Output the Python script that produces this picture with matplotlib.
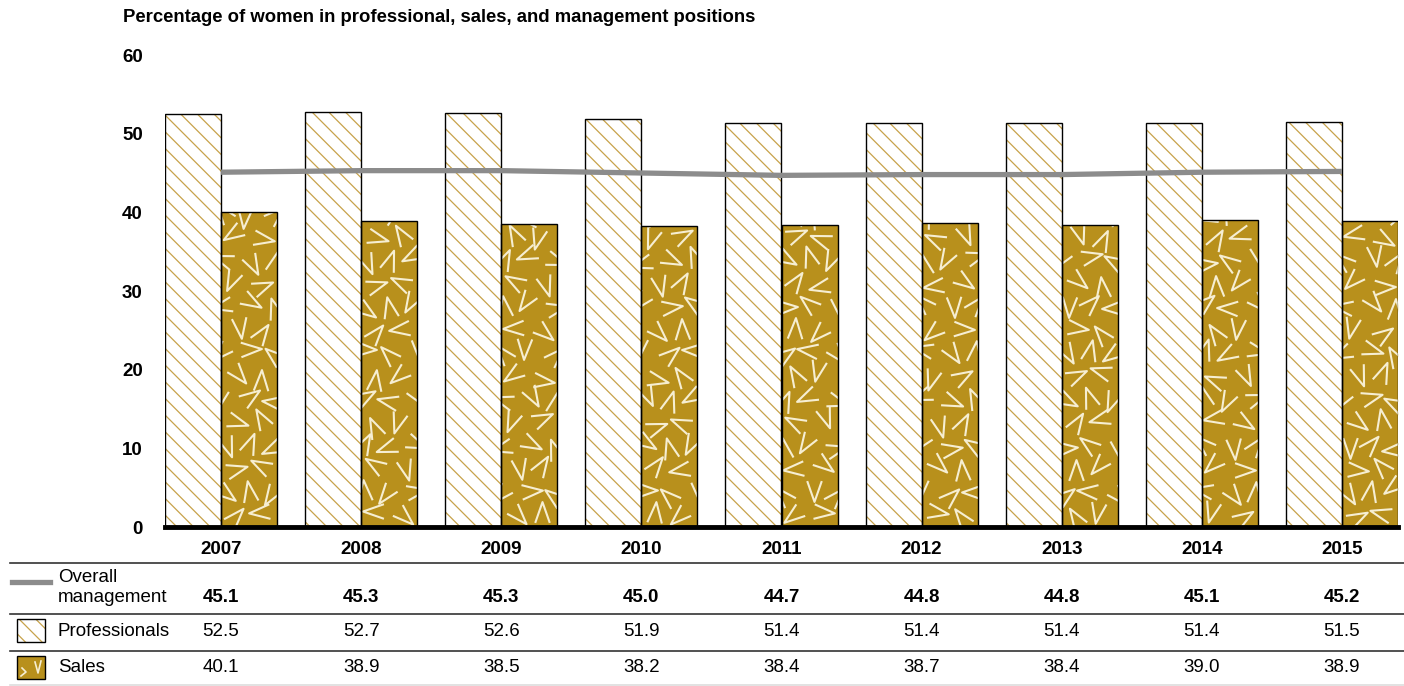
import matplotlib.pyplot as plt
import numpy as np
from matplotlib.lines import Line2D
from matplotlib.patches import Rectangle
from matplotlib.markers import MarkerStyle
from matplotlib.path import Path
from matplotlib.transforms import Affine2D

plt.rcParams['font.family'] = ['Liberation Sans', 'DejaVu Sans']
plt.rcParams['hatch.linewidth'] = 0.9

# Data
years = ["2007", "2008", "2009", "2010", "2011", "2012", "2013", "2014", "2015"]
overall = [45.1, 45.3, 45.3, 45.0, 44.7, 44.8, 44.8, 45.1, 45.2]
professionals = [52.5, 52.7, 52.6, 51.9, 51.4, 51.4, 51.4, 51.4, 51.5]
sales = [40.1, 38.9, 38.5, 38.2, 38.4, 38.7, 38.4, 39.0, 38.9]

GOLD = "#B8901C"
HATCH = "#C7A24A"
CREAM = "#F6EED2"
GREY = "#8C8C8C"
FS = 13.5
W, H = 1404, 686


def fx(px):
    return px / W


def fy(py):
    return 1 - py / H


fig = plt.figure(figsize=(W / 100, H / 100), dpi=100)
ax = fig.add_axes([fx(165), fy(527), fx(1398) - fx(165), fy(55) - fy(527)])

x = np.arange(len(years))
bw = 0.4

# Professionals bars (hatched)
ax.bar(x - bw / 2, professionals, bw, color="white", edgecolor=HATCH,
       linewidth=0, hatch="\\\\", zorder=2)
ax.bar(x - bw / 2, professionals, bw, fill=False, edgecolor="black",
       linewidth=1.0, zorder=3)

# Sales bars (gold with chevrons)
sales_bars = ax.bar(x + bw / 2, sales, bw, color=GOLD, linewidth=0, zorder=2)
ax.bar(x + bw / 2, sales, bw, fill=False, edgecolor="black",
       linewidth=1.0, zorder=3)

# chevron texture, clipped to each sales bar
vpath = Path([(-0.35, 0.5), (0.0, -0.5), (0.35, 0.5)],
             [Path.MOVETO, Path.LINETO, Path.LINETO])
k = 0
for i, bar in enumerate(sales_bars):
    x0 = bar.get_x()
    top = bar.get_height()
    yy = 1.5
    row = 0
    while yy < top + 2:
        cols = [0.25, 0.72] if row % 2 == 0 else [0.05, 0.5, 0.95]
        for c in cols:
            k += 1
            jx = ((k * 0.618) % 1 - 0.5) * 0.07
            jy = ((k * 0.414) % 1 - 0.5) * 1.2
            px = x0 + bw * c + jx
            py = yy + jy
            ang = (k * 137.5) % 360
            m = MarkerStyle(vpath, transform=Affine2D().rotate_deg(ang))
            ln, = ax.plot(px, py, marker=m, ls="none", ms=15,
                          mfc="none", mec=CREAM, mew=1.5, zorder=2.5)
            ln.set_clip_path(bar)
        yy += 2.95
        row += 1

# Overall management line
ax.plot(x, overall, color=GREY, linewidth=3.8, zorder=4,
        solid_capstyle="butt")

ax.set_xlim(-0.4, len(years) - 1 + 0.4)
ax.set_ylim(0, 60)
ax.set_yticks([0, 10, 20, 30, 40, 50, 60])
ax.tick_params(axis="y", length=0, pad=16, labelsize=FS)
for lab in ax.get_yticklabels():
    lab.set_fontweight("bold")
ax.set_xticks([])
for s in ["top", "right", "left"]:
    ax.spines[s].set_visible(False)
ax.spines["bottom"].set_linewidth(3.5)
ax.spines["bottom"].set_zorder(5)

# Title
fig.text(fx(123), fy(18), "Percentage of women in professional, sales, and management positions",
         fontsize=13.3, fontweight="bold", va="center", ha="left")

# Table under chart
xt = ax.get_xaxis_transform()


def ycoord(py):
    # convert pixel row to axes y for the blended transform
    return (527 - py) / (527 - 55)


for i, yr in enumerate(years):
    ax.text(x[i], ycoord(550), yr, transform=xt, ha="center", va="center",
            fontsize=FS, fontweight="bold", clip_on=False)
    ax.text(x[i], ycoord(597), f"{overall[i]:.1f}", transform=xt, ha="center",
            va="center", fontsize=FS, fontweight="bold", clip_on=False)
    ax.text(x[i], ycoord(632), f"{professionals[i]:.1f}", transform=xt,
            ha="center", va="center", fontsize=FS, clip_on=False)
    ax.text(x[i], ycoord(668), f"{sales[i]:.1f}", transform=xt,
            ha="center", va="center", fontsize=FS, clip_on=False)

for py, col in [(563, "#333333"), (614, "#333333"), (651, "#333333"), (685, "#DDDDDD")]:
    fig.add_artist(Line2D([fx(10), 1], [fy(py), fy(py)], color=col, lw=1.2))

fig.text(fx(58), fy(578), "Overall", fontsize=FS, va="center")
fig.text(fx(58), fy(598), "management", fontsize=FS, va="center")
fig.text(fx(58), fy(632), "Professionals", fontsize=FS, va="center")
fig.text(fx(58), fy(668), "Sales", fontsize=FS, va="center")

# Legend icons
fig.add_artist(Line2D([fx(12), fx(50)], [fy(582), fy(582)], color=GREY, lw=3.8))
fig.add_artist(Rectangle((fx(17), fy(642)), fx(28), fy(619) - fy(642),
                         transform=fig.transFigure, facecolor="white",
                         edgecolor=HATCH, lw=0, hatch="\\\\"))
fig.add_artist(Rectangle((fx(17), fy(642)), fx(28), fy(619) - fy(642),
                         transform=fig.transFigure, fill=False,
                         edgecolor="black", lw=1.0))
fig.add_artist(Rectangle((fx(17), fy(679)), fx(28), fy(656) - fy(679),
                         transform=fig.transFigure, facecolor=GOLD,
                         edgecolor="black", lw=1.0))
fig.add_artist(Line2D([fx(35), fx(38), fx(41)], [fy(662), fy(673), fy(661)],
                      color=CREAM, lw=1.2))
fig.add_artist(Line2D([fx(22), fx(26), fx(21)], [fy(668), fy(672), fy(676)],
                      color=CREAM, lw=1.2))

fig.savefig("out.png", dpi=100)
